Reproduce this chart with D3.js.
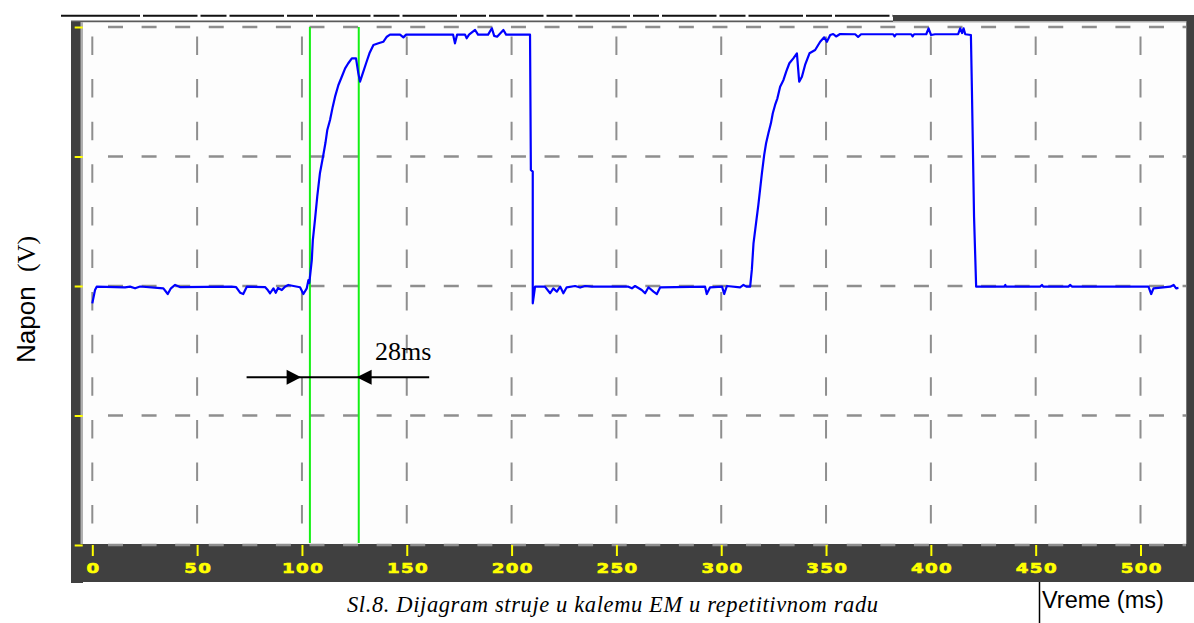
<!DOCTYPE html>
<html>
<head>
<meta charset="utf-8">
<script src="https://cdn.jsdelivr.net/npm/d3@7"></script>
<style>
  body { margin: 0; background: #fff; }
  svg { display: block; }
</style>
</head>
<body>
<svg id="chart" width="1194" height="623"></svg>
<script>
// --- data ---
const timeMs = [0, 1.3, 2.1, 15.6, 18.0, 20.4, 22.8, 33.9, 36.0, 37.5, 39.5, 41.8, 66.5, 68.6, 70.5, 72.0, 73.7,
  82.4, 83.7, 84.8, 86.4, 87.5, 88.6, 90.4, 91.9, 93.5, 99.1, 100.7, 102.3, 103.1,
  103.5, 104.7, 105.2, 106.3, 107.3, 108.6, 110.2, 111.2, 112.1, 113.4, 114.7, 115.8, 117.4, 119.0, 120.6, 122.1,
  123.8, 125.8, 126.9, 127.7, 129.0, 130.6, 132.2, 134.1, 136.5, 138.8, 140.5, 142.0,
  146.8, 148.4, 149.7, 172.1, 173.0, 174.0, 177.8, 178.6, 179.7, 182.6, 184.0, 188.8, 190.6, 191.7, 193.1, 196.1, 197.4, 208.8,
  209.2, 210.1, 210.1, 211.2,
  215.9, 218.4, 219.9, 221.6, 223.2, 224.7, 226.3, 230.3, 232.7, 235.1, 238.3, 255.7, 257.4, 258.9, 262.1, 263.7, 265.3,
  267.7, 269.3, 270.9, 292.3, 293.1, 294.7, 300.4, 301.4, 302.7, 309.0, 310.6, 312.2, 313.8,
  314.6, 315.4, 316.7, 317.7, 318.6, 319.4, 320.5, 321.4, 322.5, 323.7, 324.6, 325.7, 326.8, 328.1, 329.7, 331.0, 332.5,
  334.4, 336.1, 337.2, 338.5, 340.0, 342.1, 344.8, 347.2, 349.1, 350.4, 352.0, 353.4, 354.8, 356.7,
  363.9, 365.3, 366.7, 382.0, 382.7, 383.4, 390.6, 391.3, 392.0, 397.8, 398.9, 400.1, 402.0, 413.0, 414.0, 414.9, 415.6, 416.4, 419.1,
  419.6, 420.6, 421.6,
  435.0, 435.5, 435.9, 452.1, 453.0, 453.6, 465.6, 466.4, 467.4, 503.8, 505.1, 506.2, 514.2, 515.8, 517.0, 518.1];

const napon = [-0.134, -0.031, -0.005, -0.01, -0.005, -0.018, -0.004, -0.018, -0.062, -0.018, 0.008, -0.008, -0.005, -0.008, -0.052, -0.062, -0.005,
  -0.008, -0.031, -0.056, -0.018, -0.052, -0.015, -0.031, -0.005, 0.008, -0.01, -0.062, -0.018, 0.046,
  0.023, 0.20, 0.355, 0.525, 0.69, 0.873, 1.012, 1.104, 1.205, 1.282, 1.385, 1.462, 1.552, 1.616, 1.681, 1.720,
  1.758, 1.758, 1.642, 1.578, 1.642, 1.720, 1.797, 1.861, 1.874, 1.886, 1.925, 1.941,
  1.941, 1.920, 1.941, 1.941, 1.874, 1.941, 1.941, 1.913, 1.941, 1.977, 1.941, 1.941, 1.990, 1.931, 1.925, 1.977, 1.941, 1.941,
  0.896, 0.883, -0.134, -0.005,
  -0.005, -0.056, -0.018, -0.044, -0.005, -0.056, -0.01, 0, -0.012, 0, -0.005, -0.005, -0.018, 0, -0.031, -0.056, -0.01,
  -0.044, -0.062, -0.01, -0.005, -0.062, -0.01, -0.005, -0.062, 0, -0.01, 0.008, -0.005, -0.005,
  0.124, 0.33, 0.497, 0.625, 0.754, 0.870, 1.012, 1.102, 1.179, 1.256, 1.334, 1.398, 1.449, 1.539, 1.591, 1.655, 1.720,
  1.758, 1.797, 1.578, 1.616, 1.707, 1.797, 1.822, 1.886, 1.920, 1.886, 1.938, 1.946, 1.927, 1.946,
  1.944, 1.923, 1.944, 1.944, 1.927, 1.944, 1.944, 1.927, 1.944, 1.944, 1.990, 1.938, 1.944, 1.944, 1.990, 1.953, 1.990, 1.944, 1.938,
  1.500, 0.535, -0.005,
  -0.005, 0.008, -0.005, -0.005, 0.008, -0.005, -0.005, 0.008, -0.005, -0.005, -0.062, -0.018, -0.005, 0.008, -0.018, -0.015];

const xTickValues = [0, 50, 100, 150, 200, 250, 300, 350, 400, 450, 500];
const yGridValues = [-2, -1, 0, 1, 2];
const cursorTimes = [103.8, 127.1];          // green cursors
const arrowSpan = [73.6, 160.7];             // annotation arrow extent (ms)
const arrowTips = [99.6, 126.1];             // where the two heads point
const arrowLevel = -0.705;
const intervalLabel = "28ms";
const captionText = "Sl.8. Dijagram struje u kalemu EM u repetitivnom radu";

const svg = d3.select("#chart");

const x = d3.scaleLinear().domain([0, 500]).range([92.3, 1140.5]);
const y = d3.scaleLinear().domain([-2, 2]).range([545, 27]);

// frame of the scope screen
const frameDark = "#404040";
svg.append("rect").attr("x", 71).attr("y", 22).attr("width", 12).attr("height", 561).attr("fill", frameDark);
svg.append("rect").attr("x", 71).attr("y", 544).attr("width", 1123).attr("height", 38).attr("fill", frameDark);
svg.append("rect").attr("x", 1186).attr("y", 15).attr("width", 8).attr("height", 567).attr("fill", frameDark);
svg.append("rect").attr("x", 893).attr("y", 15).attr("width", 301).attr("height", 7).attr("fill", frameDark);
// inner light border of the plot area
svg.append("rect").attr("x", 80.5).attr("y", 21).attr("width", 1106).attr("height", 523).attr("fill", "#b0b0b0");
svg.append("rect").attr("x", 83).attr("y", 22.5).attr("width", 1103).attr("height", 521.5).attr("fill", "#fdfdfd");

// top strip: segmented black line + gray line
svg.append("line").attr("x1", 61).attr("x2", 140).attr("y1", 15.8).attr("y2", 15.8)
  .attr("stroke", "#111").attr("stroke-width", 2);
svg.append("line").attr("x1", 143).attr("x2", 893).attr("y1", 15.8).attr("y2", 15.8)
  .attr("stroke", "#111").attr("stroke-width", 2).attr("stroke-dasharray", "54.5 3 26 3");
svg.append("line").attr("x1", 71).attr("x2", 893).attr("y1", 21.2).attr("y2", 21.2)
  .attr("stroke", "#5a5a5a").attr("stroke-width", 1.5);

// grid
const grid = svg.append("g").attr("class", "grid");
grid.selectAll("line.h")
  .data(yGridValues)
  .join("line")
  .attr("class", "h")
  .attr("x1", 89.42).attr("x2", 1186)
  .attr("y1", d => y(d)).attr("y2", d => y(d))
  .attr("stroke", "#8e8e8e").attr("stroke-width", 2.6)
  .attr("stroke-dasharray", "15 18.58").attr("stroke-dashoffset", 15);
grid.selectAll("line.v")
  .data(xTickValues)
  .join("line")
  .attr("class", "v")
  .attr("x1", d => x(d)).attr("x2", d => x(d))
  .attr("y1", 36.5).attr("y2", 544)
  .attr("stroke", "#8e8e8e").attr("stroke-width", 2)
  .attr("stroke-dasharray", "18.5 24.1");

// green cursors
svg.selectAll("line.cursor")
  .data(cursorTimes)
  .join("line")
  .attr("class", "cursor")
  .attr("x1", d => x(d)).attr("x2", d => x(d))
  .attr("y1", y(2)).attr("y2", y(-2) - 2)
  .attr("stroke", "#14f014").attr("stroke-width", 2);

// trace
const trace = timeMs.map((t, i) => [t, napon[i]]);
svg.append("path")
  .datum(trace)
  .attr("fill", "none")
  .attr("stroke", "#0000ff")
  .attr("stroke-width", 2.2)
  .attr("stroke-linejoin", "round")
  .attr("d", d3.line().x(d => x(d[0])).y(d => y(d[1])));

// axes (yellow scope ticks)
const xAxis = d3.axisBottom(x).tickValues(xTickValues).tickSize(11).tickPadding(7).tickFormat(d3.format("d"));
const gx = svg.append("g").attr("transform", "translate(0,545)").call(xAxis);
gx.select(".domain").remove();
gx.selectAll("line").attr("stroke", "#ffff00").attr("stroke-width", 2);
gx.selectAll("text")
  .attr("fill", "#ffff00")
  .attr("stroke", "#ffff00")
  .attr("stroke-width", 0.6)
  .attr("transform", "scale(1.35,1)")
  .attr("dx", "0.5")
  .style("font-family", "'DejaVu Sans', sans-serif")
  .style("font-weight", "bold")
  .style("font-size", "13.5px")
  .style("letter-spacing", "1px");

const yAxis = d3.axisLeft(y).tickValues(yGridValues).tickSize(8).tickFormat("");
const gy = svg.append("g").attr("transform", "translate(82.7,0)").call(yAxis);
gy.select(".domain").remove();
gy.selectAll("line").attr("stroke", "#ffff00").attr("stroke-width", 2);

// 28ms annotation
const ay = y(arrowLevel);
svg.append("line")
  .attr("x1", x(arrowSpan[0])).attr("x2", x(arrowSpan[1]))
  .attr("y1", ay).attr("y2", ay)
  .attr("stroke", "#000").attr("stroke-width", 2);
svg.append("path")
  .attr("d", `M${x(arrowTips[0])},${ay} l-14.5,-7.5 l0,15 Z`)
  .attr("fill", "#000");
svg.append("path")
  .attr("d", `M${x(arrowTips[1])},${ay} l15,-7.5 l0,15 Z`)
  .attr("fill", "#000");
svg.append("text")
  .attr("x", 375).attr("y", 360)
  .style("font-family", "'Liberation Serif', 'Times New Roman', serif")
  .style("font-size", "26px")
  .text(intervalLabel);

// axis titles
const yTitle = svg.append("text")
  .attr("transform", "translate(35,363) rotate(-90)")
  .style("font-size", "26px");
yTitle.append("tspan").style("font-family", "'Liberation Sans', Arial, sans-serif").text("Napon\u00a0\u00a0");
yTitle.append("tspan").style("font-family", "'Liberation Serif', 'Times New Roman', serif").text("(V)");

svg.append("line").attr("x1", 1039.5).attr("x2", 1039.5).attr("y1", 582).attr("y2", 623)
  .attr("stroke", "#000").attr("stroke-width", 1.5);
svg.append("text")
  .attr("x", 1042).attr("y", 608)
  .style("font-family", "'Liberation Sans', Arial, sans-serif")
  .style("font-size", "23.5px")
  .text("Vreme (ms)");

// caption
svg.append("text")
  .attr("x", 347).attr("y", 612)
  .attr("textLength", 531).attr("lengthAdjust", "spacing")
  .style("font-family", "'Liberation Serif', 'Times New Roman', serif")
  .style("font-style", "italic")
  .style("font-size", "22.5px")
  .text(captionText);
</script>
</body>
</html>
